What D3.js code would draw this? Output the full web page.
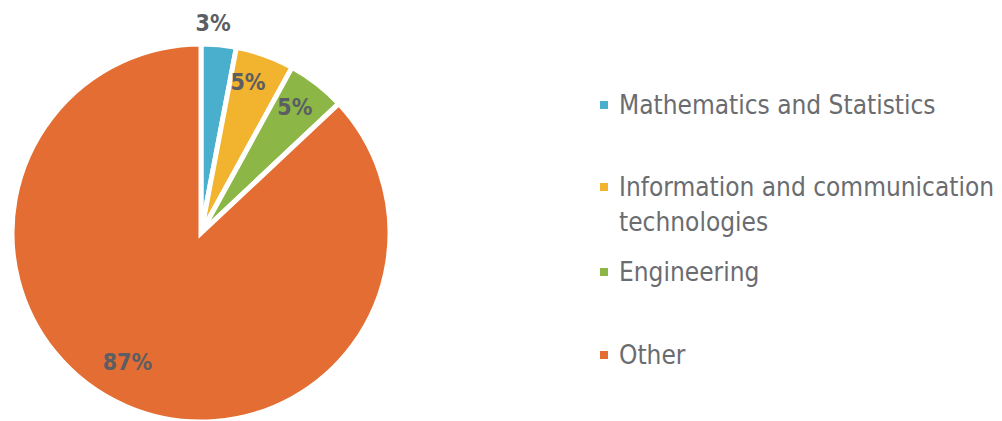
<!DOCTYPE html>
<html>
<head>
<meta charset="utf-8">
<script src="https://cdn.jsdelivr.net/npm/d3@7"></script>
<style>
  html, body { margin: 0; padding: 0; background: #fff; }
  svg { display: block; }
  text { font-family: "DejaVu Sans Condensed", "DejaVu Sans", Verdana, sans-serif; }
</style>
</head>
<body>
<svg id="chart" width="1002" height="421"></svg>
<script>
// Share of graduates by field of study (%)
const categories = ["Mathematics and Statistics", "Information and communication technologies", "Engineering", "Other"];
const legendLines = [["Mathematics and Statistics"], ["Information and communication", "technologies"], ["Engineering"], ["Other"]];
const values = [3, 5, 5, 87];
const colors = ["#4AAFCD", "#F2B32E", "#8CB646", "#E36D32"];

const svg = d3.select("#chart");
const cx = 201, cy = 233, radius = 189;

const pie = d3.pie().sort(null).value(d => d)(values);
const arc = d3.arc().innerRadius(0).outerRadius(radius);

const g = svg.append("g").attr("transform", `translate(${cx},${cy})`);

g.selectAll("path.slice")
  .data(pie)
  .join("path")
  .attr("class", "slice")
  .attr("d", arc)
  .attr("fill", (d, i) => colors[i])
  .attr("stroke", "#fff")
  .attr("stroke-width", 5)
  .attr("stroke-linejoin", "miter");

// Label placement per slice: distance from centre and angular nudge (degrees)
const labelPlace = [
  { r: 211, shift: -2.1 },
  { r: 158, shift: -2.5 },
  { r: 157, shift: -1.1 },
  { r: 148, shift: 6.4 }
];
g.selectAll("text.lbl")
  .data(pie)
  .join("text")
  .attr("class", "lbl")
  .attr("transform", (d, i) => {
    const a = (d.startAngle + d.endAngle) / 2 + labelPlace[i].shift * Math.PI / 180;
    const r = labelPlace[i].r;
    return `translate(${Math.sin(a) * r},${-Math.cos(a) * r})`;
  })
  .attr("text-anchor", "middle")
  .attr("dy", "0.36em")
  .attr("fill", "#5B5E63")
  .attr("font-weight", "bold")
  .attr("font-size", 23)
  .text(d => d.value + "%");

// Legend
const legendY = [105, 187, 272, 355];
const lg = svg.append("g").attr("transform", "translate(600,0)");
legendLines.forEach((lines, i) => {
  lg.append("rect")
    .attr("x", 0)
    .attr("y", legendY[i] - 4)
    .attr("width", 8)
    .attr("height", 8)
    .attr("fill", colors[i]);
  const t = lg.append("text")
    .attr("x", 19)
    .attr("y", legendY[i])
    .attr("fill", "#6B6C6F")
    .attr("font-size", 26);
  lines.forEach((line, j) => {
    t.append("tspan")
      .attr("x", 19)
      .attr("dy", j === 0 ? "0.36em" : "1.35em")
      .text(line);
  });
});
</script>
</body>
</html>
